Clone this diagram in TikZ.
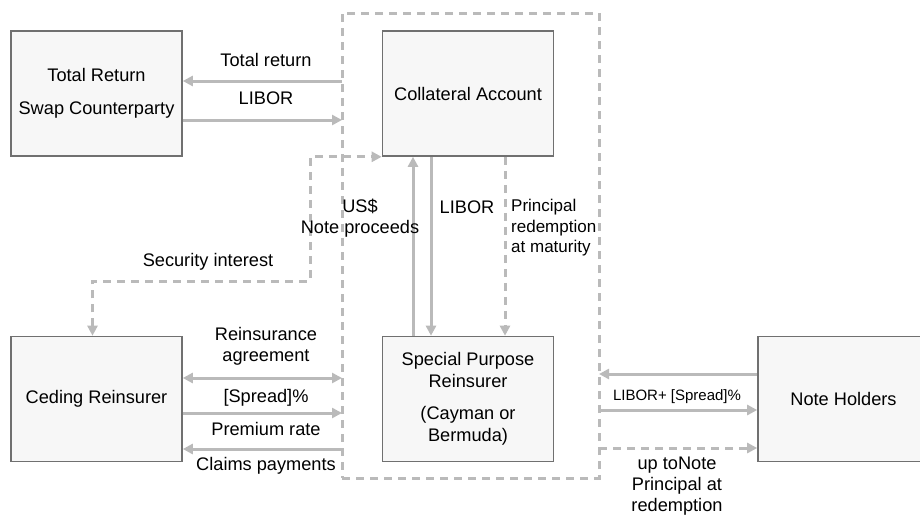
\documentclass[tikz,border=0pt]{standalone}
\usepackage{fontspec}
\setmainfont{Liberation Sans}
\usetikzlibrary{arrows.meta}
\definecolor{boxfill}{HTML}{F7F7F7}
\definecolor{boxline}{HTML}{707070}
\definecolor{flow}{HTML}{BABABA}
\tikzset{
  party/.style={draw=boxline, line width=1.6pt, fill=boxfill, minimum width=171pt, minimum height=125pt, align=center, inner sep=0pt, font=\fontsize{18.2}{22}\selectfont},
  lbl/.style={align=center, inner sep=0pt, font=\fontsize{18.2}{21}\selectfont},
  lblmid/.style={align=left, inner sep=0pt, font=\fontsize{17}{20.5}\selectfont},
  lblsmall/.style={align=center, inner sep=0pt, font=\fontsize{15}{19}\selectfont},
  flowline/.style={draw=flow, line width=3pt, -{Triangle[length=10pt,width=10pt]}},
  dflow/.style={flowline, dash pattern=on 8pt off 6pt},
  boundary/.style={draw=flow, line width=3pt, dash pattern=on 8pt off 6pt, minimum width=257pt, minimum height=465pt, inner sep=0pt}
}
\begin{document}
\begin{tikzpicture}[x=1pt,y=-1pt]
\useasboundingbox (0,0) rectangle (920,515);
% outer dashed boundary
\node[boundary] (spv) at (470.5,245.5) {};
% parties
\node[party] (tr) at (96.5,93.5) {Total Return\\[11pt]Swap Counterparty};
\node[party] (ca) at (468,93.5) {Collateral Account};
\node[party] (cr) at (96.5,399) {Ceding Reinsurer};
\node[party] (spr) at (468,399) {Special Purpose\\Reinsurer\\[10pt](Cayman or\\Bermuda)};
\node[party] (nh) at (843.5,399) {Note Holders};
% boundary coordinates
\coordinate (b1) at (342,81);
\coordinate (b2) at (342,120);
\coordinate (s1) at (310,281);
\coordinate (b3) at (342,378);
\coordinate (b4) at (342,413);
\coordinate (b5) at (342,449);
\coordinate (r1) at (599,374);
\coordinate (r2) at (599,410);
\coordinate (r3) at (599,448);
% connectors
\draw[flowline] (b1) -- (tr.east |- b1);
\draw[flowline] (tr.east |- b2) -- (b2);
\draw[dflow, {Triangle[length=10pt,width=10pt]}-{Triangle[length=10pt,width=10pt]}] ([xshift=-4pt]cr.north) |- (s1) |- (ca.south west);
\draw[flowline] ([xshift=-55pt]spr.north) -- ([xshift=-55pt]ca.south);
\draw[flowline] ([xshift=-37pt]ca.south) -- ([xshift=-37pt]spr.north);
\draw[dflow] ([xshift=37pt]ca.south) -- ([xshift=37pt]spr.north);
\draw[flowline, {Triangle[length=10pt,width=10pt]}-{Triangle[length=10pt,width=10pt]}] (cr.east |- b3) -- (b3);
\draw[flowline] (cr.east |- b4) -- (b4);
\draw[flowline] (b5) -- (cr.east |- b5);
\draw[flowline] (nh.west |- r1) -- (r1);
\draw[flowline] (r2) -- (nh.west |- r2);
\draw[dflow] (r3) -- (nh.west |- r3);
% labels
\node[lbl] (l1) at (266,60) {Total return};
\node[lbl] (l2) at (266,98) {LIBOR};
\node[lbl] (l3) at (208,262) {Security interest};
\node[lbl] (l4) at (360,218) {US\$\\Note proceeds};
\node[lbl] (l5) at (467,207) {LIBOR};
\node[lblmid, anchor=west] (l6) at (511,228) {Principal\\redemption\\at maturity};
\node[lbl] (l7) at (266,346) {Reinsurance\\agreement};
\node[lbl] (l8) at (266,398) {[Spread]\%};
\node[lbl] (l9) at (266,429) {Premium rate};
\node[lbl] (l10) at (266,466) {Claims payments};
\node[lblsmall] (l11) at (677,397) {LIBOR+ [Spread]\%};
\node[lbl] (l12) at (677,486) {up toNote\\Principal at\\redemption};
\end{tikzpicture}
\end{document}
